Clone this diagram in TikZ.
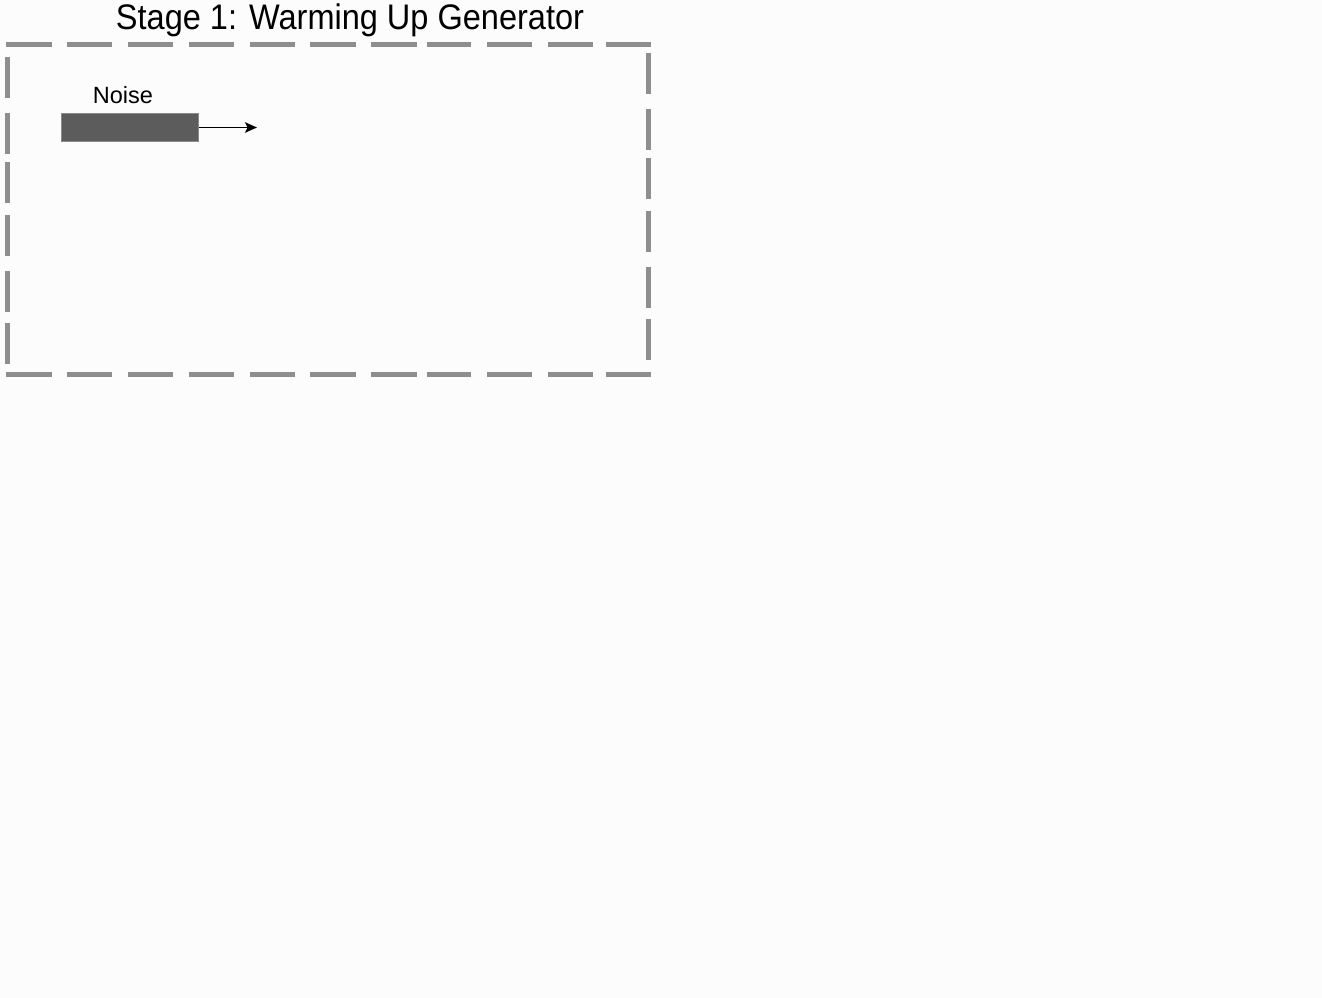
\documentclass[tikz,border=0pt]{standalone}
\usepackage{fontspec}
\setmainfont{Liberation Sans}
\usetikzlibrary{arrows.meta}
\definecolor{bgcol}{HTML}{FCFCFC}
\definecolor{framecol}{HTML}{8E8E8E}
\definecolor{boxfill}{HTML}{5C5C5C}
\definecolor{boxedge}{HTML}{8A8A8A}
\tikzset{
  framedash/.style={draw=framecol, line width=5pt, line cap=butt},
  noisebox/.style={draw=boxedge, fill=boxfill, line width=1pt, minimum width=137pt, minimum height=28pt, inner sep=0pt},
  flowarrow/.style={draw=black, line width=1.6pt, -{Stealth[length=12pt,width=10.5pt,inset=2.5pt]}},
  titletext/.style={font=\fontsize{35.5}{40}\selectfont, inner sep=0pt, anchor=base, xscale=0.916},
  labeltext/.style={font=\fontsize{23.5}{28}\selectfont, inner sep=0pt, anchor=base}
}
\begin{document}
\begin{tikzpicture}[x=1pt, y=-1pt]
  \fill[bgcol] (0,0) rectangle (1322,998);
  \useasboundingbox (0,0) rectangle (1322,998);
  % frame: top and bottom dashes
  \foreach \a/\b in {6/52, 67/112, 128/173, 189/234, 250/295, 310/356, 371/417, 427/471, 487/532, 548/593, 606/651} {
    \draw[framedash] (\a,45) -- (\b,45);
    \draw[framedash] (\a,374) -- (\b,374);
  }
  % left side
  \foreach \a/\b in {57/98, 113/154, 162/203, 215/256, 271/312, 323/364} {
    \draw[framedash] (7,\a) -- (7,\b);
  }
  % right side
  \foreach \a/\b in {53/94, 109/150, 158/199, 211/252, 267/308, 319/360} {
    \draw[framedash] (648,\a) -- (648,\b);
  }
  % title
  \node[titletext] (title) at (350,29.5) {Stage 1: Warming Up Generator};
  % noise
  \node[noisebox] (noise) at (129.5,127.5) {};
  \node[labeltext] (noiselabel) at (123,103) {Noise};
  \coordinate (noiseout) at (257,127.5);
  \draw[flowarrow] (noise.east) -- (noiseout);
\end{tikzpicture}
\end{document}
